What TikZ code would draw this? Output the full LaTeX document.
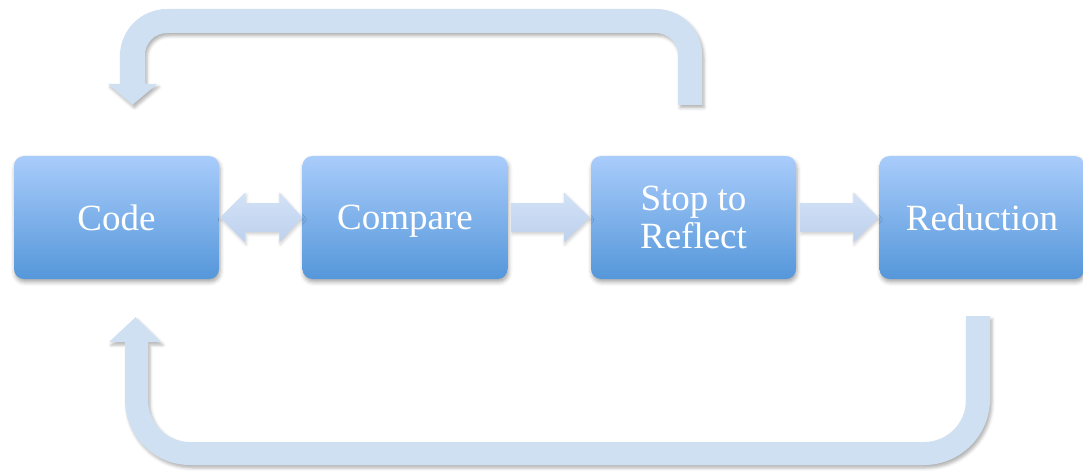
\documentclass[tikz,border=0pt]{standalone}
\usepackage{fontspec}
\setmainfont{Liberation Serif}
\usetikzlibrary{calc,shadows.blur}
\definecolor{boxtop}{HTML}{A9CCFB}
\definecolor{boxbot}{HTML}{5597DA}
\definecolor{arrtop}{HTML}{D2E1F6}
\definecolor{arrbot}{HTML}{BDD1EE}
\definecolor{loopfill}{HTML}{CFE0F3}
\tikzset{
  stepbox/.style={rounded corners=10pt, minimum width=205pt, minimum height=123pt,
    top color=boxtop, bottom color=boxbot, text=white, align=center, inner sep=0pt,
    text depth=0pt, font=\fontsize{37}{38}\selectfont,
    blur shadow={shadow xshift=1pt, shadow yshift=-3pt, shadow blur radius=4pt, shadow opacity=35}},
  flowarrow/.style={top color=arrtop, bottom color=arrbot,
    blur shadow={shadow xshift=1pt, shadow yshift=-2pt, shadow blur radius=3pt, shadow opacity=20}},
  looparrow/.style={fill=loopfill,
    blur shadow={shadow xshift=2pt, shadow yshift=-3pt, shadow blur radius=3pt, shadow opacity=30}}
}
\begin{document}
\begin{tikzpicture}[x=1pt,y=1pt]
\useasboundingbox (0,0) rectangle (1083,472);

% the four stages
\node[stepbox] (code) at (116.5,254.5) {Code};
\node[stepbox] (cmp)  at (405,254.5)   {Compare};
\node[stepbox] (stop) at (693.5,254.5) {Stop to\\Reflect};
\node[stepbox] (red)  at (982,254.5)   {Reduction};

% two-way arrow between Code and Compare
\coordinate (a1) at ($(code.east)+(1,0)$);
\coordinate (b1) at ($(cmp.west)+(0,0)$);
\path[flowarrow] (a1) -- ($(a1)+(25,25)$) -- ($(a1)+(25,14.5)$)
  -- ($(b1)+(-23,14.5)$) -- ($(b1)+(-23,25)$) -- (b1)
  -- ($(b1)+(-23,-25)$) -- ($(b1)+(-23,-14.5)$)
  -- ($(a1)+(25,-14.5)$) -- ($(a1)+(25,-25)$) -- cycle;

% Compare -> Stop to Reflect
\coordinate (a2) at ($(cmp.east)+(4,0)$);
\coordinate (b2) at ($(stop.west)+(-1,0)$);
\path[flowarrow] ($(a2)+(0,14.5)$) -- ($(b2)+(-26,14.5)$) -- ($(b2)+(-26,25)$) -- (b2)
  -- ($(b2)+(-26,-25)$) -- ($(b2)+(-26,-14.5)$) -- ($(a2)+(0,-14.5)$) -- cycle;

% Stop to Reflect -> Reduction
\coordinate (a3) at ($(stop.east)+(4,0)$);
\coordinate (b3) at ($(red.west)+(-1,0)$);
\path[flowarrow] ($(a3)+(0,14.5)$) -- ($(b3)+(-25,14.5)$) -- ($(b3)+(-25,25)$) -- (b3)
  -- ($(b3)+(-25,-25)$) -- ($(b3)+(-25,-14.5)$) -- ($(a3)+(0,-14.5)$) -- cycle;

% upper loop: from above Stop to Reflect back to Code
\coordinate (t0) at ($(stop.north)+(-3.5,51)$);
\coordinate (t1) at ($(code.north)+(16,51)$);
\path[looparrow] ($(t0)+(-12,0)$) -- (678,417) arc (0:90:22) -- (167,439) arc (90:180:22)
  -- (145,388) -- (157,388) -- (t1) -- (108,388) -- (120,388)
  -- (120,416) arc (180:90:47) -- (656,463) arc (90:0:46) -- ($(t0)+(12,0)$) -- cycle;

% lower loop: from below Reduction back to Code
\coordinate (u0) at ($(red.south)+(-4,-37)$);
\coordinate (u1) at ($(code.south)+(19,-38)$);
\path[looparrow] ($(u0)+(-12,0)$) -- (966,72) arc (0:-90:42) -- (190,30) arc (270:180:42)
  -- (148,130) -- (161,130) -- (u1) -- (109,130) -- (125,130)
  -- (125,72) arc (180:270:65) -- (924,7) arc (270:360:66) -- ($(u0)+(12,0)$) -- cycle;
\end{tikzpicture}
\end{document}
